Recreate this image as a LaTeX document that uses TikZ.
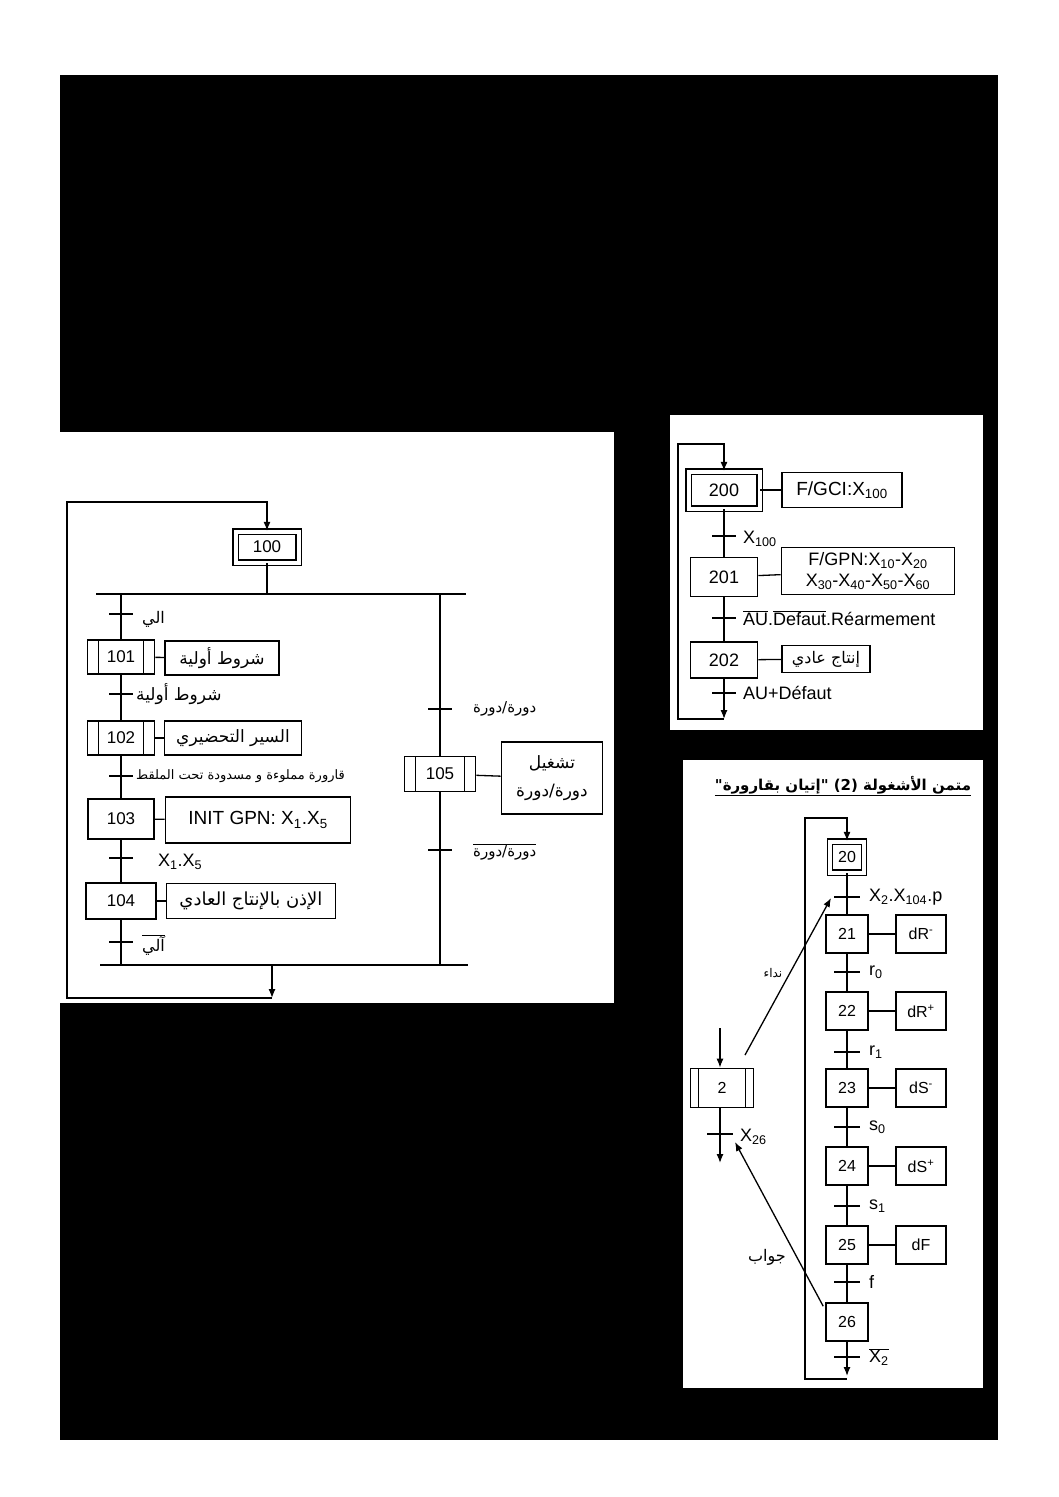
\documentclass[tikz,border=0pt]{standalone}
\usepackage{fontspec}
\setmainfont{Liberation Sans}
\newfontfamily\arabicfont[Script=Arabic]{DejaVu Sans}
\TeXXeTstate=1
\newcommand{\artxt}[1]{{\arabicfont\beginR #1\endR}}
\usetikzlibrary{arrows.meta}
\usetikzlibrary{positioning}

\begin{document}
\begin{tikzpicture}[x=1pt,y=-1pt]
  \tikzset{stepbox/.style = {shape=rectangle,draw,line width=1.6pt,inner sep=0pt,font=\fontsize{17}{20}\selectfont}}
  \tikzset{initstep/.style = {stepbox,double,double distance=4pt,line width=1.2pt}}
  \tikzset{tachestep/.style = {stepbox,path picture={
      \draw[line width=1.2pt] ([xshift=#1pt]path picture bounding box.north west) -- ([xshift=#1pt]path picture bounding box.south west)
        ([xshift=-#1pt]path picture bounding box.north east) -- ([xshift=-#1pt]path picture bounding box.south east);}},
    tachestep/.default=11}
  \tikzset{action/.style = {shape=rectangle,draw,line width=1.6pt,inner sep=2pt,align=center,font=\fontsize{19}{24}\selectfont}}
  \tikzset{trans/.style = {shape=rectangle,fill=black,minimum width=24pt,minimum height=2.4pt,inner sep=0pt,outer sep=0pt}}
  \tikzset{tlabel/.style = {inner sep=1pt,font=\fontsize{18}{21}\selectfont}}
  \tikzset{link/.style = {line width=1.3pt}}
  \tikzset{bar/.style = {line width=2.2pt}}
  \tikzset{grafarrow/.tip={Latex[length=9pt,width=7pt]}}

  % page and panels
  \useasboundingbox (0,0) rectangle (1058,1497);
  \fill[white] (0,0) rectangle (1058,1497);
  \fill[black] (60,75) rectangle (998,1440);
  \fill[white] (60,432) rectangle (614,1003);
  \fill[white] (670,415) rectangle (983,730);
  \fill[white] (683,760) rectangle (983,1388);

  % ---- left grafcet
  \node[initstep,minimum width=63pt,minimum height=31pt] (s100) at (267,547) {100};
  \coordinate (divL) at (96,594);
  \coordinate (divR) at (466,594);
  \coordinate (convL) at (100,965);
  \coordinate (convR) at (468,965);

  \node[trans] (t101) at (121,614) {};
  \node[tachestep,minimum width=67pt,minimum height=34pt] (s101) at (121,657) {101};
  \node[action,minimum width=114pt,minimum height=34pt,font=\fontsize{17}{20}\selectfont] (a101) at (222,658) {\artxt{شروط أولية}};
  \node[trans] (t102) at (121,694) {};
  \node[tachestep,minimum width=67pt,minimum height=34pt] (s102) at (121,738) {102};
  \node[action,minimum width=137pt,minimum height=34pt,font=\fontsize{17}{20}\selectfont] (a102) at (233,738) {\artxt{السير التحضيري}};
  \node[trans] (t103) at (121,776) {};
  \node[stepbox,minimum width=66pt,minimum height=40pt] (s103) at (121,819) {103};
  \node[action,minimum width=185pt,minimum height=46pt] (a103) at (258,820) {INIT GPN: X\textsubscript{1}.X\textsubscript{5}};
  \node[trans] (t104) at (121,858) {};
  \node[stepbox,minimum width=70pt,minimum height=36pt] (s104) at (121,901) {104};
  \node[action,minimum width=169pt,minimum height=35pt,font=\fontsize{18}{20}\selectfont] (a104) at (251,901) {\artxt{الإذن بالإنتاج العادي}};
  \node[trans] (t105) at (121,942) {};

  \node[trans] (t106) at (440,709) {};
  \node[tachestep,minimum width=71pt,minimum height=35pt] (s105) at (440,774) {105};
  \node[action,minimum width=101pt,minimum height=72pt,font=\fontsize{17}{28}\selectfont] (a105) at (552,778) {\artxt{تشغيل}\\ \artxt{دورة/دورة}};
  \node[trans] (t107) at (440,850) {};

  \node[tlabel,right=8pt of t101,yshift=-5pt,font=\fontsize{16}{18}\selectfont] (l101) {\artxt{الي}};
  \node[tlabel,right=2pt of t102,font=\fontsize{17}{19}\selectfont] (l102) {\artxt{شروط أولية}};
  \node[tlabel,right=2pt of t103,font=\fontsize{13}{15}\selectfont] (l103) {\artxt{قارورة مملوءة و مسدودة تحت الملقط}};
  \node[tlabel,right=24pt of t104,yshift=-4pt] (l104) {X\textsubscript{1}.X\textsubscript{5}};
  \node[tlabel,right=8pt of t105,yshift=-3pt,font=\fontsize{16}{18}\selectfont] (l105) {$\overline{\hbox{\artxt{آلي}}}$};
  \node[tlabel,right=20pt of t106,font=\fontsize{15}{17}\selectfont] (l106) {\artxt{دورة/دورة}};
  \node[tlabel,right=20pt of t107,yshift=-2pt,font=\fontsize{15}{17}\selectfont] (l107) {$\overline{\hbox{\artxt{دورة/دورة}}}$};

  \draw[link] (s100) -- (s100 |- divL);
  \draw[bar] (divL) -- (divR);
  \draw[bar] (convL) -- (convR);
  \draw[link] (t101 |- divL) -- (t101);
  \foreach \from/\to in {t101/s101, s101/t102, t102/s102, s102/t103, t103/s103, s103/t104, t104/s104, s104/t105, t106/s105, s105/t107}
    \draw[link] (\from) -- (\to);
  \draw[link] (t105) -- (t105 |- convL);
  \draw[link] (t106 |- divR) -- (t106);
  \draw[link] (t107) -- (t107 |- convR);
  \foreach \s in {101,102,103,104,105}
    \draw[link] (s\s) -- (a\s);

  \coordinate (loopA) at (272,965);
  \coordinate (loopB) at (272,998);
  \coordinate (loopC) at (67,998);
  \coordinate (loopD) at (67,502);
  \coordinate (loopE) at (267,502);
  \draw[link,-grafarrow] (loopA) -- (loopB);
  \draw[link,-grafarrow] (loopB) -- (loopC) -- (loopD) -- (loopE) -- (s100.north);

  % ---- grafcet 200
  \node[initstep,minimum width=71pt,minimum height=37pt,font=\fontsize{18}{20}\selectfont] (s200) at (724,490) {200};
  \node[action,minimum width=120pt,minimum height=35pt] (a200) at (842,490) {F/GCI:X\textsubscript{100}};
  \node[trans] (t201) at (724,536) {};
  \node[stepbox,minimum width=67pt,minimum height=39pt,font=\fontsize{18}{20}\selectfont] (s201) at (724,577) {201};
  \node[action,minimum width=173pt,minimum height=47pt,font=\fontsize{18}{21}\selectfont] (a201) at (868,571) {F/GPN:X\textsubscript{10}-X\textsubscript{20}\\X\textsubscript{30}-X\textsubscript{40}-X\textsubscript{50}-X\textsubscript{60}};
  \node[trans] (t202) at (724,618) {};
  \node[stepbox,minimum width=67pt,minimum height=36pt,font=\fontsize{18}{20}\selectfont] (s202) at (724,660) {202};
  \node[action,minimum width=88pt,minimum height=27pt,font=\fontsize{16}{18}\selectfont] (a202) at (826,659) {\artxt{إنتاج عادي}};
  \node[trans] (t203) at (724,693) {};

  \node[tlabel,right=6pt of t201,yshift=-3pt] (l201) {X\textsubscript{100}};
  \node[tlabel,right=6pt of t202] (l202) {$\overline{\mbox{AU}}$.$\overline{\mbox{Defaut}}$.Réarmement};
  \node[tlabel,right=6pt of t203] (l203) {AU+Défaut};

  \foreach \from/\to in {s200/t201, t201/s201, s201/t202, t202/s202, s202/t203}
    \draw[link] (\from) -- (\to);
  \foreach \s in {200,201,202}
    \draw[link] (s\s) -- (a\s);
  \coordinate (ret1) at (724,719);
  \coordinate (ret2) at (678,719);
  \coordinate (ret3) at (678,444);
  \coordinate (ret4) at (724,444);
  \draw[link,-grafarrow] (t203) -- (ret1);
  \draw[link,-grafarrow] (ret1) -- (ret2) -- (ret3) -- (ret4) -- (s200.north);

  % ---- grafcet 20
  \node[font=\arabicfont\bfseries\fontsize{15}{17}\selectfont] (titre) at (843,786) {\underline{\hbox{\beginR متمن الأشغولة (2) "\kern0pt إتيان بقارورة\kern0pt"\endR}}};

  \node[initstep,minimum width=34pt,minimum height=31pt,font=\fontsize{16}{18}\selectfont] (s20) at (847,857) {20};
  \foreach \n/\y in {21/934, 22/1011, 23/1088, 24/1166, 25/1245, 26/1322}
    \node[stepbox,minimum width=42pt,minimum height=38pt,font=\fontsize{16}{18}\selectfont] (s\n) at (847,\y) {\n};
  \foreach \n/\y/\txt in {21/934/{dR\textsuperscript{-}}, 22/1011/{dR\textsuperscript{+}}, 23/1088/{dS\textsuperscript{-}}, 24/1166/{dS\textsuperscript{+}}, 25/1245/{dF}}
    \node[action,minimum width=50pt,minimum height=38pt,font=\fontsize{16}{18}\selectfont] (a\n) at (921,\y) {\txt};
  \foreach \n/\y/\txt in {21/897/{X\textsubscript{2}.X\textsubscript{104}.p}, 22/972/{r\textsubscript{0}}, 23/1052/{r\textsubscript{1}}, 24/1127/{s\textsubscript{0}}, 25/1206/{s\textsubscript{1}}, 26/1282/{f}, 27/1357/{$\overline{\mbox{X\textsubscript{2}}}$}}
    {\node[trans,minimum width=26pt] (t\n) at (847,\y) {};
     \node[tlabel,right=8pt of t\n] (l\n) {\txt};}

  \foreach \from/\to in {s20/t21, t21/s21, s21/t22, t22/s22, s22/t23, t23/s23, s23/t24, t24/s24, s24/t25, t25/s25, s25/t26, t26/s26, s26/t27}
    \draw[link] (\from) -- (\to);
  \foreach \s in {21,22,23,24,25}
    \draw[link] (s\s) -- (a\s);
  \coordinate (bcl1) at (847,1376);
  \coordinate (bcl2) at (805,1379);
  \coordinate (bcl3) at (805,818);
  \coordinate (bcl4) at (847,818);
  \draw[link,-grafarrow] (t27) -- (bcl1);
  \draw[link,-grafarrow] (bcl1 |- bcl2) -- (bcl2) -- (bcl3) -- (bcl4) -- (s20.north);

  \node[tachestep=8,minimum width=63pt,minimum height=39pt,font=\fontsize{16}{18}\selectfont] (s2) at (722,1088) {2};
  \node[trans,minimum width=26pt] (t2) at (720,1134) {};
  \node[tlabel,right=6pt of t2,yshift=-3pt] (l2) {X\textsubscript{26}};
  \coordinate (in2) at (720,1028);
  \coordinate (out2) at (720,1163);
  \draw[link,-grafarrow] (in2) -- (s2.north -| in2);
  \draw[link] (s2.south -| t2) -- (t2);
  \draw[link,-grafarrow] (t2) -- (out2);

  \coordinate (appel1) at (745,1055);
  \coordinate (appel2) at (831,898);
  \coordinate (rep2) at (735,1142);
  \draw[link,-grafarrow] (appel1) -- (appel2);
  \draw[link,-grafarrow] ([xshift=-2pt,yshift=-4pt]s26.north west) -- (rep2);
  \node[font=\fontsize{12}{14}\selectfont] (lappel) at (773,973) {\artxt{نداء}};
  \node[font=\fontsize{16}{18}\selectfont] (lrep) at (767,1257) {\artxt{جواب}};
\end{tikzpicture}
\end{document}
